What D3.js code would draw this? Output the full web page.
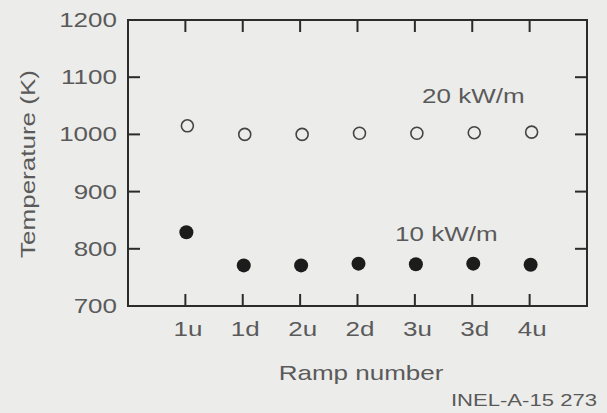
<!DOCTYPE html>
<html>
<head>
<meta charset="utf-8">
<script src="https://cdn.jsdelivr.net/npm/d3@7"></script>
<style>
  html, body { margin: 0; padding: 0; background: #ececea; }
  svg { display: block; }
  text { font-family: "Liberation Sans", Arial, sans-serif; fill: #5a5a5a; }
</style>
</head>
<body>
<div id="chart"></div>
<script>
(function () {
    "use strict";

    var ramps = ["1u", "1d", "2u", "2d", "3u", "3d", "4u"];
    var temp20 = [1015, 1000, 1000, 1002, 1002, 1003, 1004];
    var temp10 = [829, 771, 771, 774, 773, 774, 772];
    var yTicks = [700, 800, 900, 1000, 1100, 1200];

    var width = 607,
        height = 413,
        stretch = 1.3,
        fontSize = 20,
        tick = 12;

    var left = 128, right = 587, top = 20, bottom = 306;

    var svg = d3.select("#chart").append("svg")
        .attr("width", width)
        .attr("height", height);

    svg.append("rect")
        .attr("width", width)
        .attr("height", height)
        .attr("fill", "#ececea");

    var x = d3.scalePoint()
        .domain(ramps)
        .range([left, right])
        .padding(1);

    var y = d3.scaleLinear()
        .domain([700, 1200])
        .range([bottom, top]);

    // wide lettering, like the original typesetting
    function widen(sel) {
        sel.each(function () {
            var t = d3.select(this),
                tx = +t.attr("x") || 0;
            t.attr("x", tx / stretch)
                .attr("transform", "scale(" + stretch + ",1)");
        });
    }

    function labelsOnly(g) {
        g.select(".domain").remove();
        g.selectAll(".tick line").remove();
        g.selectAll(".tick text")
            .attr("font-size", fontSize)
            .attr("fill", "#5a5a5a");
    }

    svg.append("g")
        .attr("transform", "translate(" + left + ",0)")
        .call(d3.axisLeft(y).tickValues(yTicks).tickFormat(d3.format("d")).tickSize(0).tickPadding(11))
        .call(labelsOnly)
        .call(function (g) { g.selectAll(".tick text").call(widen); });

    svg.append("g")
        .attr("transform", "translate(0," + bottom + ")")
        .call(d3.axisBottom(x).tickSize(0).tickPadding(16))
        .call(labelsOnly)
        .call(function (g) {
            g.selectAll(".tick text").attr("x", 2).call(widen);
        });

    // inward ticks on all four sides
    var ticks = svg.append("g")
        .attr("stroke", "#2b2b2b")
        .attr("stroke-width", 2);

    ticks.selectAll(".yl")
        .data(yTicks)
        .enter().append("line")
        .attr("class", "yl")
        .attr("x1", left).attr("x2", left + tick)
        .attr("y1", function (d) { return y(d); })
        .attr("y2", function (d) { return y(d); });

    ticks.selectAll(".yr")
        .data(yTicks)
        .enter().append("line")
        .attr("class", "yr")
        .attr("x1", right).attr("x2", right - tick)
        .attr("y1", function (d) { return y(d); })
        .attr("y2", function (d) { return y(d); });

    ticks.selectAll(".xb")
        .data(ramps)
        .enter().append("line")
        .attr("class", "xb")
        .attr("x1", function (d) { return x(d); })
        .attr("x2", function (d) { return x(d); })
        .attr("y1", bottom).attr("y2", bottom - tick);

    ticks.selectAll(".xt")
        .data(ramps)
        .enter().append("line")
        .attr("class", "xt")
        .attr("x1", function (d) { return x(d); })
        .attr("x2", function (d) { return x(d); })
        .attr("y1", top).attr("y2", top + tick);

    svg.append("rect")
        .attr("x", left)
        .attr("y", top)
        .attr("width", right - left)
        .attr("height", bottom - top)
        .attr("fill", "none")
        .attr("stroke", "#2b2b2b")
        .attr("stroke-width", 2);

    // 20 kW/m, open circles
    svg.append("g").selectAll("circle")
        .data(temp20)
        .enter().append("circle")
        .attr("cx", function (d, i) { return x(ramps[i]) + 2; })
        .attr("cy", function (d) { return y(d); })
        .attr("r", 6)
        .attr("fill", "none")
        .attr("stroke", "#444")
        .attr("stroke-width", 1.6);

    // 10 kW/m, filled circles
    svg.append("g").selectAll("circle")
        .data(temp10)
        .enter().append("circle")
        .attr("cx", function (d, i) { return x(ramps[i]) + 1; })
        .attr("cy", function (d) { return y(d); })
        .attr("r", 7)
        .attr("fill", "#1c1c1c");

    function label(px, py, str, anchor, size, rot) {
        svg.append("g")
            .attr("transform", "translate(" + px + "," + py + ")" + (rot ? "rotate(" + rot + ")" : "") + "scale(" + stretch + ",1)")
            .append("text")
            .attr("text-anchor", anchor)
            .attr("font-size", size)
            .text(str);
    }

    label(422, 103, "20 kW/m", "start", fontSize);
    label(395, 241, "10 kW/m", "start", fontSize);
    label(35, 164, "Temperature (K)", "middle", fontSize, -90);
    label(361, 380, "Ramp number", "middle", fontSize);
    label(597, 406, "INEL-A-15  273", "end", 17);
})();
</script>
</body>
</html>
